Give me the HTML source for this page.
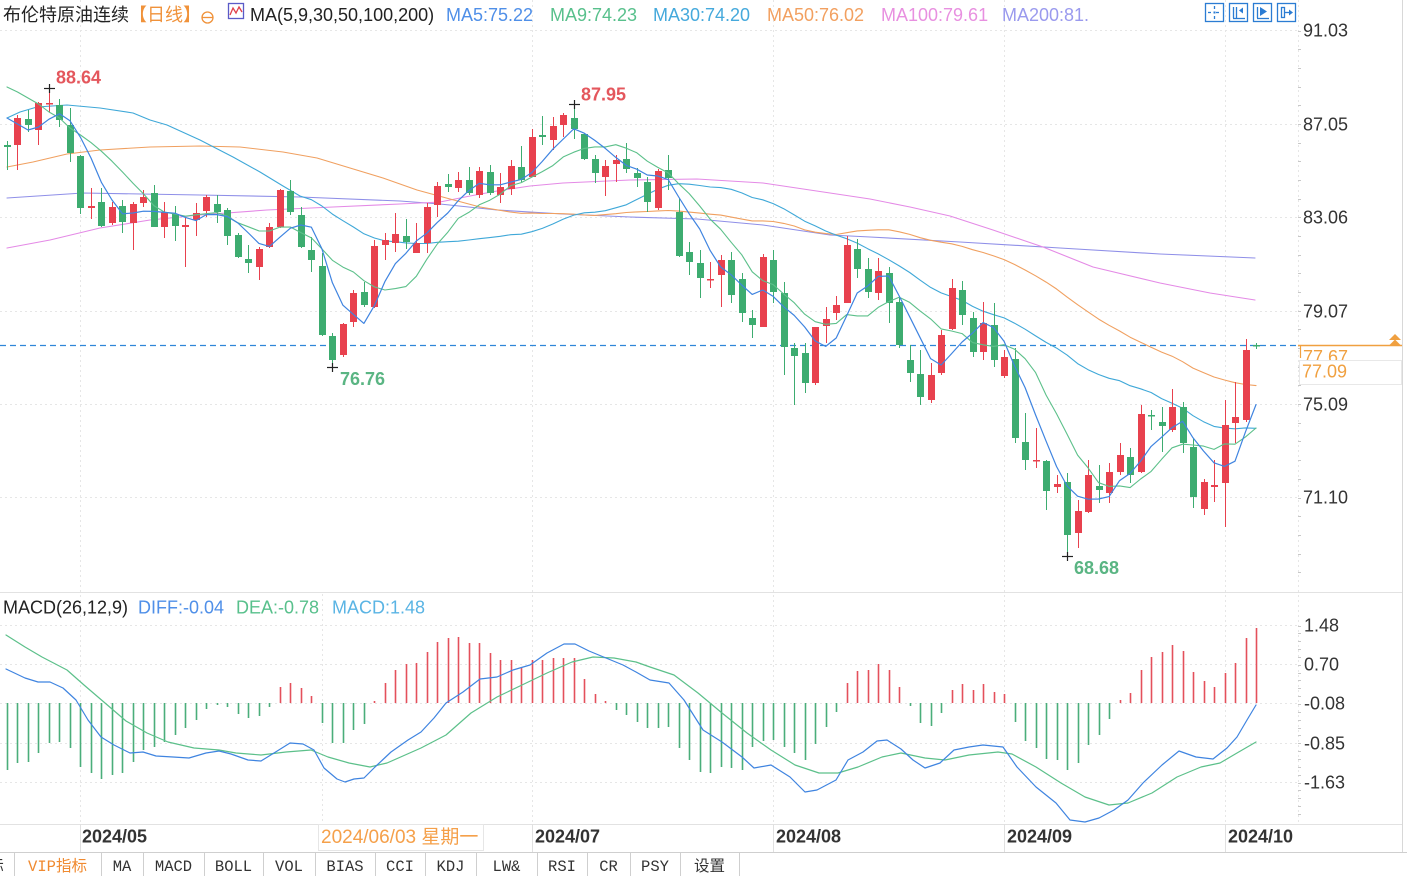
<!DOCTYPE html>
<html><head><meta charset="utf-8">
<style>
html,body{margin:0;padding:0;background:#fff;}
body{width:1407px;height:876px;position:relative;overflow:hidden;}
svg{position:absolute;left:0;top:0;}
</style></head><body>
<svg id="c" width="1407" height="876" xmlns="http://www.w3.org/2000/svg" font-family="'Liberation Sans','Noto Sans CJK SC',sans-serif">
<rect x="0" y="0" width="1407" height="876" fill="#fff"/>
<g stroke="#e6e6e6" stroke-width="1" stroke-dasharray="2,3">
<line x1="0" y1="30.5" x2="1298" y2="30.5"/>
<line x1="0" y1="124.5" x2="1298" y2="124.5"/>
<line x1="0" y1="217.5" x2="1298" y2="217.5"/>
<line x1="0" y1="311.5" x2="1298" y2="311.5"/>
<line x1="0" y1="404.5" x2="1298" y2="404.5"/>
<line x1="0" y1="497.5" x2="1298" y2="497.5"/>
<line x1="0" y1="625.5" x2="1298" y2="625.5"/>
<line x1="0" y1="664.5" x2="1298" y2="664.5"/>
<line x1="0" y1="703.5" x2="1298" y2="703.5"/>
<line x1="0" y1="743.5" x2="1298" y2="743.5"/>
<line x1="0" y1="782.5" x2="1298" y2="782.5"/>
<line x1="80.5" y1="0" x2="80.5" y2="824"/>
<line x1="532.5" y1="0" x2="532.5" y2="824"/>
<line x1="773.5" y1="0" x2="773.5" y2="824"/>
<line x1="1004.5" y1="0" x2="1004.5" y2="824"/>
<line x1="1225.5" y1="0" x2="1225.5" y2="824"/>
<line x1="1298.5" y1="0" x2="1298.5" y2="824"/>
<line x1="322.5" y1="594" x2="322.5" y2="824"/>
</g>
<line x1="0" y1="592.5" x2="1402" y2="592.5" stroke="#e2e2e2"/>
<line x1="0" y1="824.5" x2="1402" y2="824.5" stroke="#e2e2e2"/>
<line x1="0" y1="852.5" x2="1407" y2="852.5" stroke="#cfcfcf"/>
<line x1="1402.5" y1="0" x2="1402.5" y2="852" stroke="#d8d8d8"/>
<g stroke="#e0e0e0">
<line x1="80.5" y1="824" x2="80.5" y2="852"/>
<line x1="532.5" y1="824" x2="532.5" y2="852"/>
<line x1="773.5" y1="824" x2="773.5" y2="852"/>
<line x1="1004.5" y1="824" x2="1004.5" y2="852"/>
<line x1="1225.5" y1="824" x2="1225.5" y2="852"/>
</g>
<g id="ticks"></g>
<line x1="0" y1="345.5" x2="1298" y2="345.5" stroke="#2f86d8" stroke-width="1.2" stroke-dasharray="6,4"/>
<g id="dyn"></g>

<text x="3" y="21" font-size="18" fill="#222">布伦特原油连续</text>
<text x="129" y="21" font-size="18" fill="#f0923a">【日线】</text>
<circle cx="207.5" cy="17.5" r="5.5" fill="none" stroke="#f0923a" stroke-width="1.3"/>
<line x1="202" y1="17.5" x2="213" y2="17.5" stroke="#f0923a" stroke-width="1.3"/>
<rect x="228.5" y="3.5" width="15" height="15" fill="#fff" stroke="#5b5bc8" stroke-width="1.3"/>
<polyline points="230,15 233,8 236,13 239,7 242,12" fill="none" stroke="#e0404a" stroke-width="1.3"/>
<text x="250" y="21" font-size="18" fill="#222">MA(5,9,30,50,100,200)</text>
<text x="446" y="21" font-size="18" fill="#4f8fe8">MA5:75.22</text>
<text x="550" y="21" font-size="18" fill="#58c08c">MA9:74.23</text>
<text x="653" y="21" font-size="18" fill="#45a9dc">MA30:74.20</text>
<text x="767" y="21" font-size="18" fill="#f2a060">MA50:76.02</text>
<text x="881" y="21" font-size="18" fill="#e890e0">MA100:79.61</text>
<text x="1002" y="21" font-size="18" fill="#9a9aee">MA200:81.</text>

<g fill="none" stroke="#2b7cd3" stroke-width="1.3">
<rect x="1205.5" y="3.5" width="18" height="18"/>
<rect x="1229.5" y="3.5" width="18" height="18"/>
<rect x="1253.5" y="3.5" width="18" height="18"/>
<rect x="1277.5" y="3.5" width="18" height="18"/>
<line x1="1208" y1="12.5" x2="1211" y2="12.5"/><line x1="1216" y1="12.5" x2="1219" y2="12.5"/>
<line x1="1214.5" y1="6" x2="1214.5" y2="9"/><line x1="1214.5" y1="16" x2="1214.5" y2="19"/>
<line x1="1233.5" y1="7" x2="1233.5" y2="18"/><line x1="1236.5" y1="7" x2="1236.5" y2="18"/><line x1="1233" y1="18.5" x2="1245" y2="18.5"/>
<line x1="1257.5" y1="7" x2="1257.5" y2="18"/><line x1="1257" y1="18.5" x2="1269" y2="18.5"/>
<rect x="1281.5" y="7.5" width="3" height="10"/>
<line x1="1285" y1="12.5" x2="1292" y2="12.5"/>
</g>
<g fill="#2b7cd3">
<rect x="1213.5" y="11.5" width="2" height="2"/>
<polygon points="1239,10.5 1243,7.5 1243,13.5"/>
<polygon points="1260,7 1267,11.5 1260,16"/>
<polygon points="1289,9.5 1293,12.5 1289,15.5"/>
</g>

<g font-size="18" fill="#333">
<text x="1303" y="36.5">91.03</text>
<text x="1303" y="130.5">87.05</text>
<text x="1303" y="223.5">83.06</text>
<text x="1303" y="317.5">79.07</text>
<text x="1303" y="410.5">75.09</text>
<text x="1303" y="503.5">71.10</text>
</g>
<line x1="1298" y1="345.5" x2="1402" y2="345.5" stroke="#f0a040" stroke-width="1.5"/>
<line x1="1300.5" y1="345" x2="1300.5" y2="358" stroke="#f0a040" stroke-width="1.2"/>
<polygon points="1389,340 1395,334 1401,340" fill="#f0a040"/>
<polygon points="1389,345.5 1395,339.5 1401,345.5" fill="#f0a040"/>
<text x="1303" y="363" font-size="18" fill="#f0a040">77.67</text>
<rect x="1299.5" y="360.5" width="102" height="24" fill="#fff" stroke="#e8e8e8"/>
<text x="1302" y="377.5" font-size="18" fill="#f0a040">77.09</text>

<g stroke="#222" stroke-width="1.2">
<line x1="44" y1="88.5" x2="55" y2="88.5"/><line x1="49.5" y1="84" x2="49.5" y2="93"/>
<line x1="569" y1="104.5" x2="580" y2="104.5"/><line x1="574.5" y1="100" x2="574.5" y2="109"/>
<line x1="327" y1="367.5" x2="338" y2="367.5"/><line x1="332.5" y1="363" x2="332.5" y2="372"/>
<line x1="1062" y1="556.5" x2="1073" y2="556.5"/><line x1="1067.5" y1="552" x2="1067.5" y2="561"/>
</g>
<g font-size="18" font-weight="bold">
<text x="56" y="83.5" fill="#e4575d">88.64</text>
<text x="581" y="100.5" fill="#e4575d">87.95</text>
<text x="340" y="385" fill="#5ab583">76.76</text>
<text x="1074" y="574" fill="#5ab583">68.68</text>
</g>

<text x="3" y="613.5" font-size="18" fill="#222">MACD(26,12,9)</text>
<text x="138" y="613.5" font-size="18" fill="#4f8fe8">DIFF:-0.04</text>
<text x="236" y="613.5" font-size="18" fill="#58c08c">DEA:-0.78</text>
<text x="332" y="613.5" font-size="18" fill="#5ab4e4">MACD:1.48</text>
<g font-size="18" fill="#333">
<text x="1304" y="631.5">1.48</text>
<text x="1304" y="670.5">0.70</text>
<text x="1304" y="709.5">-0.08</text>
<text x="1304" y="749.5">-0.85</text>
<text x="1304" y="788.5">-1.63</text>
</g>

<g font-size="18" font-weight="bold" fill="#333">
<text x="82" y="842.5">2024/05</text>
<text x="535" y="842.5">2024/07</text>
<text x="776" y="842.5">2024/08</text>
<text x="1007" y="842.5">2024/09</text>
<text x="1228" y="842.5">2024/10</text>
</g>
<rect x="318.5" y="824.5" width="165" height="26" fill="#fff" stroke="#e6e6e6"/>
<text x="321" y="843" font-size="19" fill="#f5a04a">2024/06/03 星期一</text>

<g stroke="#cfcfcf">
<line x1="14.5" y1="853" x2="14.5" y2="876"/>
<line x1="101.5" y1="853" x2="101.5" y2="876"/>
<line x1="143.5" y1="853" x2="143.5" y2="876"/>
<line x1="204.5" y1="853" x2="204.5" y2="876"/>
<line x1="263.5" y1="853" x2="263.5" y2="876"/>
<line x1="315.5" y1="853" x2="315.5" y2="876"/>
<line x1="375.5" y1="853" x2="375.5" y2="876"/>
<line x1="425.5" y1="853" x2="425.5" y2="876"/>
<line x1="476.5" y1="853" x2="476.5" y2="876"/>
<line x1="537.5" y1="853" x2="537.5" y2="876"/>
<line x1="587.5" y1="853" x2="587.5" y2="876"/>
<line x1="630.5" y1="853" x2="630.5" y2="876"/>
<line x1="680.5" y1="853" x2="680.5" y2="876"/>
<line x1="739.5" y1="853" x2="739.5" y2="876"/>
</g>
<g font-family="'Liberation Mono','Noto Sans CJK SC',monospace" font-size="15.5" fill="#333" text-anchor="middle">
<text x="-4" y="871">标</text>
<text x="57.5" y="871" fill="#f08a30">VIP指标</text>
<text x="122" y="871">MA</text>
<text x="173.5" y="871">MACD</text>
<text x="233.5" y="871">BOLL</text>
<text x="289" y="871">VOL</text>
<text x="345" y="871">BIAS</text>
<text x="400" y="871">CCI</text>
<text x="450.5" y="871">KDJ</text>
<text x="506.5" y="871">LW&amp;</text>
<text x="562" y="871">RSI</text>
<text x="608.5" y="871">CR</text>
<text x="655" y="871">PSY</text>
<text x="709.5" y="871">设置</text>
</g>
</svg>
<script>
(function(){
const NS='http://www.w3.org/2000/svg';
const g=document.getElementById('dyn');
function el(t,a,p){const e=document.createElementNS(NS,t);for(const k in a)e.setAttribute(k,a[k]);(p||g).appendChild(e);return e;}
const tk=document.getElementById('ticks');
for(let y=30.5;y<590;y+=18.68){el('rect',{x:1298,y:Math.round(y),width:3,height:1,fill:'#c8c8c8'},tk);}
for(let y=625.5;y<820;y+=7.85){el('rect',{x:1298,y:Math.round(y),width:3,height:1,fill:'#c8c8c8'},tk);}
const D=[
['g',145,147,141,170],['r',118,145,115,170],['g',119,125,110,132],['r',103,130,102,145],['r',103,104,88,112],
['g',105,120,99,127],['g',125,153,108,162],['g',156,208,155,214],['r',206,208,188,219],['g',202,226,188,227],
['r',207,223,202,225],['g',206,222,200,233],['r',204,223,202,250],['r',197,203,190,207],['g',193,227,185,227],
['r',212,227,202,238],['g',214,226,206,241],['r',225,227,218,267],['r',213,220,203,236],['r',197,211,195,217],
['g',204,212,195,223],['g',210,236,208,245],['g',235,257,233,258],['g',259,263,245,273],['r',249,267,247,280],
['r',227,247,223,248],['r',190,227,189,228],['g',191,212,180,215],['g',215,247,207,248],['g',250,260,237,272],
['g',266,335,253,336],['g',336,360,333,368],['r',324,355,323,357],['r',293,322,290,327],['g',292,305,282,307],
['r',246,307,240,308],['r',240,245,233,260],['r',234,243,213,252],['g',236,242,219,249],['r',243,253,223,253],
['r',207,243,203,253],['r',186,205,182,217],['g',184,187,174,192],['r',180,188,172,192],['g',180,193,167,195],
['r',171,195,167,198],['g',172,193,165,195],['r',187,195,173,203],['r',166,189,160,195],['g',167,180,146,182],
['r',137,177,129,177],['g',135,137,116,145],['r',126,140,117,150],['r',115,125,113,137],['g',118,129,104,139],
['g',134,159,133,160],['g',159,173,155,183],['r',166,177,160,196],['r',160,164,155,182],['g',159,169,143,173],
['g',173,178,168,187],['g',182,202,177,212],['r',171,208,169,210],['g',170,178,155,190],['g',212,256,198,257],
['g',252,262,242,275],['g',263,278,250,298],['r',279,280,262,288],['r',260,275,255,307],['g',260,295,252,303],
['g',279,313,273,322],['g',318,325,310,338],['r',257,327,254,327],['g',260,292,250,303],['g',293,347,282,375],
['g',348,356,343,405],['g',353,383,343,393],['r',327,383,327,385],['r',319,326,307,343],['r',305,313,296,320],
['r',245,303,236,303],['g',249,269,239,278],['g',269,292,258,298],['r',271,293,258,300],['g',273,303,267,323],
['g',302,345,297,348],['g',360,373,345,382],['g',374,397,350,405],['r',375,400,363,403],['r',335,373,330,375],
['r',288,329,279,330],['g',290,315,281,325],['g',318,352,312,357],['r',323,352,302,360],['g',325,360,303,367],
['r',357,376,350,378],['g',359,438,348,443],['g',442,460,413,470],['r',460,461,428,468],['g',461,491,460,510],
['r',484,487,475,493],['g',482,535,473,558],['r',511,533,500,548],['r',475,512,460,513],['g',486,490,465,503],
['r',472,493,463,503],['r',455,472,443,475],['g',457,475,448,483],['r',414,472,405,473],['g',415,416,410,430],
['g',422,426,407,452],['r',407,430,389,432],['g',407,443,402,453],['g',447,497,438,508],['r',482,509,479,515],
['r',485,487,460,502],['r',425,483,400,527],['r',417,423,382,443],['r',350,420,339,422],['g',345,346,343,349]
];
const N=D.length;
const X=i=>7+i*10.496;
const R='#e8414e',G='#3dac70';
const cl=D.map(d=>d[0]=='r'?d[1]:d[2]);
function poly(pts,col,w){el('polyline',{points:pts.map(p=>p[0].toFixed(1)+','+p[1].toFixed(1)).join(' '),fill:'none',stroke:col,'stroke-width':w||1.1,'stroke-linejoin':'round','stroke-linecap':'round'});}
function ma(n,early){const pts=early.slice();for(let i=n-1;i<N;i++){let s=0;for(let k=i-n+1;k<=i;k++)s+=cl[k];pts.push([X(i),s/n]);}return pts;}
poly([[7,198],[83,193],[200,195],[300,197],[400,201],[440,204],[497,210],[563,214],[630,217],[697,219],[763,225],[830,235],[870,237],[960,242],[1060,248],[1160,254],[1255,258]],'#8f8fe8');
poly([[7,248],[50,240],[100,228],[150,220],[200,215],[267,210],[333,207],[400,204],[440,202],[470,196],[497,191],[530,186],[563,183],[630,180],[697,179],[763,183],[830,193],[870,199],[910,207],[950,216],[993,230],[1043,247],[1093,267],[1160,283],[1210,293],[1255,300]],'#e48ae6');
poly(ma(50,[[7,167],[33,162],[67,154],[100,150],[150,147],[200,146],[240,147],[283,152],[317,158],[350,168],[383,178],[417,190],[450,199],[480,207],[510,212]]),'#f0a060');
poly(ma(30,[[7,118],[20,112],[37,107],[67,105],[100,108],[133,113],[150,120],[167,125],[200,140],[233,157],[260,172],[283,186],[300,196]]),'#3fa8d8');
D.forEach((d,i)=>{const x=Math.round(X(i));const c=d[0]=='r'?R:G;
 el('line',{x1:x+.5,x2:x+.5,y1:d[3],y2:d[4],stroke:c,'stroke-width':1});
 el('rect',{x:x-3,y:d[1],width:7,height:Math.max(1.5,d[2]-d[1]),fill:c});});
poly(ma(9,[[X(0),87],[X(1),92],[X(2),98],[X(3),104],[X(4),112],[X(5),118],[X(6),128],[X(7),135]]),'#5cc08a');
poly(ma(5,[[X(0),118],[X(1),124],[X(2),130],[X(3),127]]),'#3f84e0',1.2);
const H=[770,763,762,753,743,742,748,767,773,779,775,773,762,750,747,742,735,728,720,709,705,707,714,718,716,707,687,683,688,696,723,743,743,730,724,701,683,670,664,663,652,642,638,637,643,643,653,660,660,667,660,660,658,658,658,679,694,701,710,715,722,728,728,727,748,760,772,773,767,768,770,747,741,740,747,753,760,744,727,712,683,671,670,664,670,687,706,723,726,713,690,684,690,684,692,694,722,741,748,759,760,770,763,745,735,719,700,693,670,657,652,645,651,672,681,687,673,663,638,628];
H.forEach((v,i)=>{const x=Math.round(X(i))+.5;el('line',{x1:x,x2:x,y1:703,y2:v,stroke:v<703?'#e4505b':'#4aae7a','stroke-width':1.6});});
poly([[6,635],[25,647],[42,657],[67,670],[84,685],[105,703],[126,721],[147,733],[168,742],[194,748],[219,750],[236,753],[261,755],[286,752],[311,750],[328,757],[349,763],[370,767],[387,763],[421,748],[446,735],[471,713],[497,697],[522,685],[547,673],[572,662],[593,657],[614,658],[636,662],[650,667],[674,675],[698,693],[722,713],[747,733],[771,750],[795,765],[819,773],[838,773],[858,767],[882,757],[901,753],[925,758],[945,760],[969,755],[998,752],[1012,754],[1036,767],[1061,783],[1085,797],[1109,805],[1128,803],[1152,793],[1177,777],[1201,767],[1220,763],[1237,753],[1256,742]],'#5cc08a',1.2);
poly([[6,669],[25,678],[38,682],[50,682],[63,688],[76,700],[88,720],[101,737],[114,745],[130,753],[143,752],[156,756],[173,757],[189,758],[206,753],[219,751],[231,754],[248,760],[261,761],[274,753],[290,743],[303,744],[314,750],[324,768],[337,779],[345,782],[354,779],[364,778],[375,767],[391,752],[408,740],[421,732],[434,718],[446,703],[463,692],[480,679],[497,677],[513,670],[530,665],[547,653],[564,644],[575,644],[589,651],[606,658],[623,665],[636,672],[650,680],[669,683],[684,700],[703,730],[722,742],[742,757],[754,768],[771,765],[790,777],[805,792],[817,790],[836,780],[848,760],[863,752],[877,741],[887,740],[901,749],[913,760],[925,768],[940,763],[954,750],[969,747],[983,745],[1003,747],[1017,767],[1036,787],[1056,803],[1070,820],[1085,822],[1099,818],[1114,810],[1128,800],[1143,783],[1162,765],[1179,751],[1196,757],[1213,759],[1227,748],[1237,737],[1247,720],[1256,705]],'#3f84e0',1.2);
})();
</script>
</body></html>
